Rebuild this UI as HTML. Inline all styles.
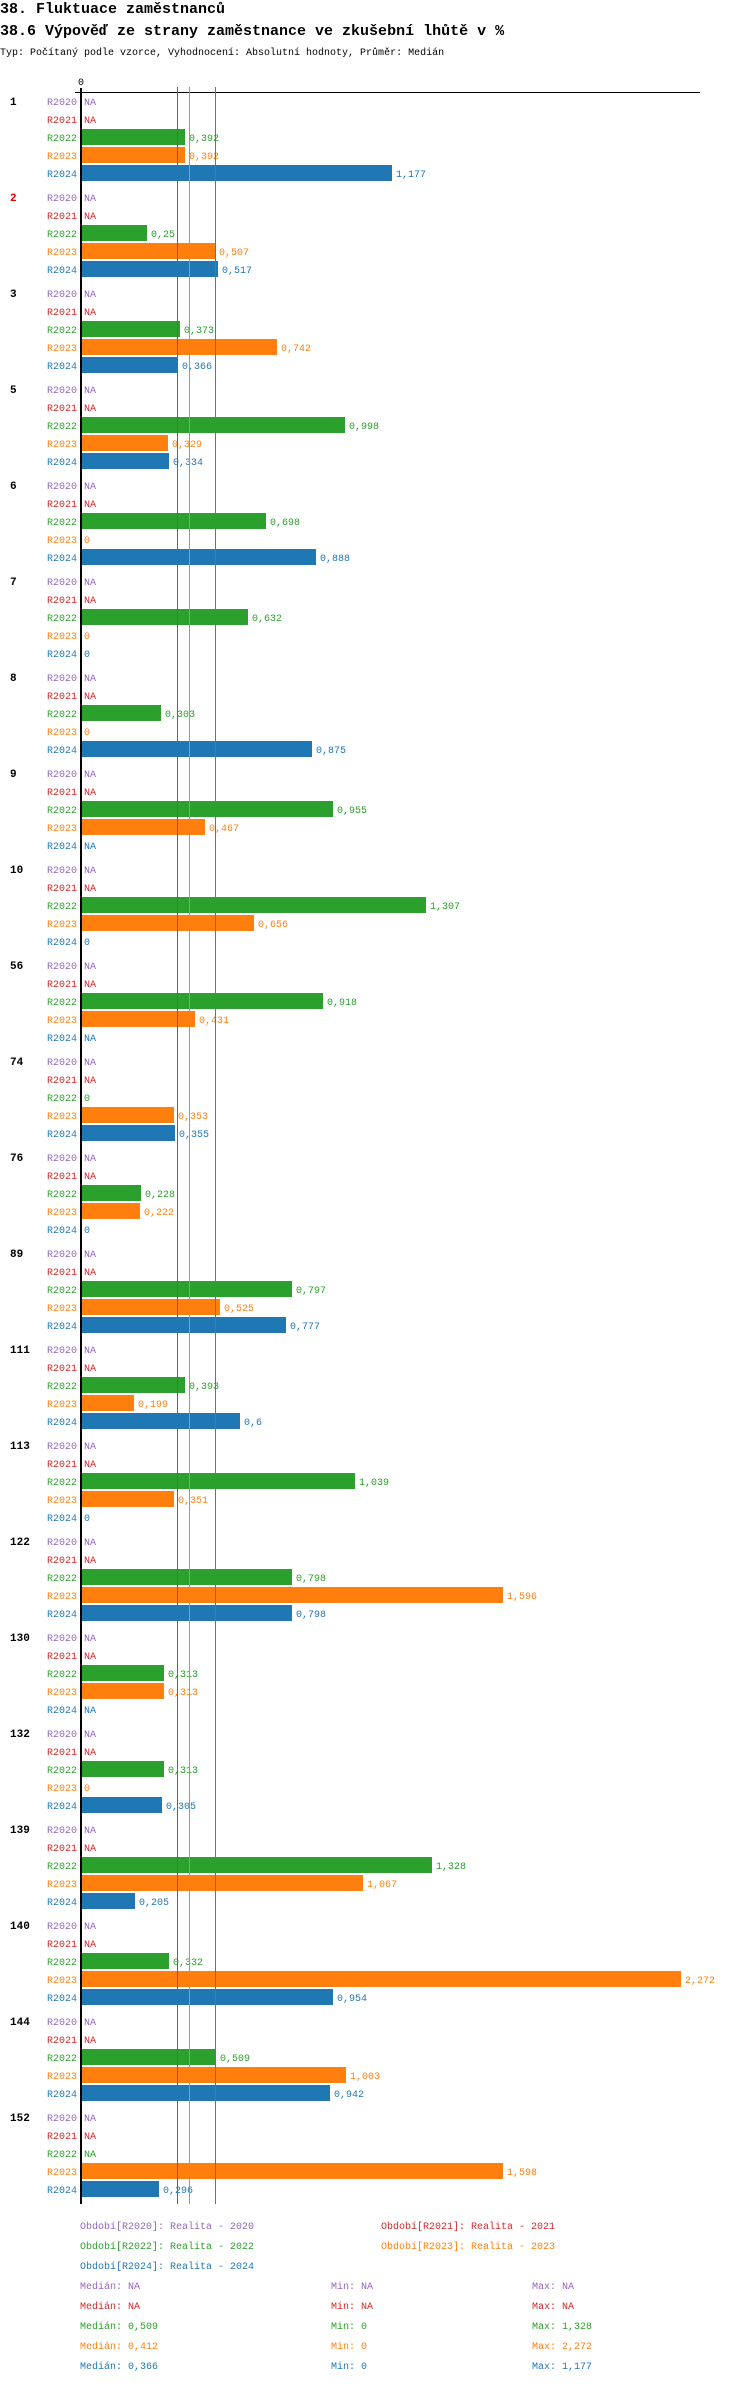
<!DOCTYPE html>
<html><head><meta charset="utf-8"><style>
html,body{margin:0;padding:0;background:#fff}
svg{display:block}
text{font-family:"Liberation Mono","DejaVu Sans Mono",monospace;font-size:10px}
.g{font-weight:bold;font-size:11px}
.l{text-anchor:end}
.p{fill:#9467bd}.r{fill:#d62728}.gr{fill:#2ca02c}.o{fill:#ff7f0e}.b{fill:#1f77b4}
</style></head><body>
<svg width="750" height="2384" viewBox="0 0 750 2384" xmlns="http://www.w3.org/2000/svg">
<text x="0" y="13" style="font-size:15px;font-weight:bold">38. Fluktuace zaměstnanců</text>
<text x="0" y="35" style="font-size:15px;font-weight:bold">38.6 Výpověď ze strany zaměstnance ve zkušební lhůtě v %</text>
<text x="0" y="55">Typ: Počítaný podle vzorce, Vyhodnocení: Absolutní hodnoty, Průměr: Medián</text>
<text x="78" y="85">0</text>
<line x1="75" y1="92.5" x2="700" y2="92.5" stroke="#000" stroke-width="1"/>

<g transform="translate(0,101)"><text class="g" x="10" y="4">1</text>
<text class="l p" x="77" y="4">R2020</text><text class="p" x="84" y="4">NA</text>
<text class="l r" x="77" y="22">R2021</text><text class="r" x="84" y="22">NA</text>
<text class="l gr" x="77" y="40">R2022</text><rect class="gr" x="82" y="28" width="103" height="16"/><text class="gr" x="189" y="40">0,392</text>
<text class="l o" x="77" y="58">R2023</text><rect class="o" x="82" y="46" width="103" height="16"/><text class="o" x="189" y="58">0,392</text>
<text class="l b" x="77" y="76">R2024</text><rect class="b" x="82" y="64" width="310" height="16"/><text class="b" x="396" y="76">1,177</text></g>

<g transform="translate(0,197)"><text class="g" x="10" y="4" fill="#e00">2</text>
<text class="l p" x="77" y="4">R2020</text><text class="p" x="84" y="4">NA</text>
<text class="l r" x="77" y="22">R2021</text><text class="r" x="84" y="22">NA</text>
<text class="l gr" x="77" y="40">R2022</text><rect class="gr" x="82" y="28" width="65" height="16"/><text class="gr" x="151" y="40">0,25</text>
<text class="l o" x="77" y="58">R2023</text><rect class="o" x="82" y="46" width="133" height="16"/><text class="o" x="219" y="58">0,507</text>
<text class="l b" x="77" y="76">R2024</text><rect class="b" x="82" y="64" width="136" height="16"/><text class="b" x="222" y="76">0,517</text></g>

<g transform="translate(0,293)"><text class="g" x="10" y="4">3</text>
<text class="l p" x="77" y="4">R2020</text><text class="p" x="84" y="4">NA</text>
<text class="l r" x="77" y="22">R2021</text><text class="r" x="84" y="22">NA</text>
<text class="l gr" x="77" y="40">R2022</text><rect class="gr" x="82" y="28" width="98" height="16"/><text class="gr" x="184" y="40">0,373</text>
<text class="l o" x="77" y="58">R2023</text><rect class="o" x="82" y="46" width="195" height="16"/><text class="o" x="281" y="58">0,742</text>
<text class="l b" x="77" y="76">R2024</text><rect class="b" x="82" y="64" width="96" height="16"/><text class="b" x="182" y="76">0,366</text></g>

<g transform="translate(0,389)"><text class="g" x="10" y="4">5</text>
<text class="l p" x="77" y="4">R2020</text><text class="p" x="84" y="4">NA</text>
<text class="l r" x="77" y="22">R2021</text><text class="r" x="84" y="22">NA</text>
<text class="l gr" x="77" y="40">R2022</text><rect class="gr" x="82" y="28" width="263" height="16"/><text class="gr" x="349" y="40">0,998</text>
<text class="l o" x="77" y="58">R2023</text><rect class="o" x="82" y="46" width="86" height="16"/><text class="o" x="172" y="58">0,329</text>
<text class="l b" x="77" y="76">R2024</text><rect class="b" x="82" y="64" width="87" height="16"/><text class="b" x="173" y="76">0,334</text></g>

<g transform="translate(0,485)"><text class="g" x="10" y="4">6</text>
<text class="l p" x="77" y="4">R2020</text><text class="p" x="84" y="4">NA</text>
<text class="l r" x="77" y="22">R2021</text><text class="r" x="84" y="22">NA</text>
<text class="l gr" x="77" y="40">R2022</text><rect class="gr" x="82" y="28" width="184" height="16"/><text class="gr" x="270" y="40">0,698</text>
<text class="l o" x="77" y="58">R2023</text><text class="o" x="84" y="58">0</text>
<text class="l b" x="77" y="76">R2024</text><rect class="b" x="82" y="64" width="234" height="16"/><text class="b" x="320" y="76">0,888</text></g>

<g transform="translate(0,581)"><text class="g" x="10" y="4">7</text>
<text class="l p" x="77" y="4">R2020</text><text class="p" x="84" y="4">NA</text>
<text class="l r" x="77" y="22">R2021</text><text class="r" x="84" y="22">NA</text>
<text class="l gr" x="77" y="40">R2022</text><rect class="gr" x="82" y="28" width="166" height="16"/><text class="gr" x="252" y="40">0,632</text>
<text class="l o" x="77" y="58">R2023</text><text class="o" x="84" y="58">0</text>
<text class="l b" x="77" y="76">R2024</text><text class="b" x="84" y="76">0</text></g>

<g transform="translate(0,677)"><text class="g" x="10" y="4">8</text>
<text class="l p" x="77" y="4">R2020</text><text class="p" x="84" y="4">NA</text>
<text class="l r" x="77" y="22">R2021</text><text class="r" x="84" y="22">NA</text>
<text class="l gr" x="77" y="40">R2022</text><rect class="gr" x="82" y="28" width="79" height="16"/><text class="gr" x="165" y="40">0,303</text>
<text class="l o" x="77" y="58">R2023</text><text class="o" x="84" y="58">0</text>
<text class="l b" x="77" y="76">R2024</text><rect class="b" x="82" y="64" width="230" height="16"/><text class="b" x="316" y="76">0,875</text></g>

<g transform="translate(0,773)"><text class="g" x="10" y="4">9</text>
<text class="l p" x="77" y="4">R2020</text><text class="p" x="84" y="4">NA</text>
<text class="l r" x="77" y="22">R2021</text><text class="r" x="84" y="22">NA</text>
<text class="l gr" x="77" y="40">R2022</text><rect class="gr" x="82" y="28" width="251" height="16"/><text class="gr" x="337" y="40">0,955</text>
<text class="l o" x="77" y="58">R2023</text><rect class="o" x="82" y="46" width="123" height="16"/><text class="o" x="209" y="58">0,467</text>
<text class="l b" x="77" y="76">R2024</text><text class="b" x="84" y="76">NA</text></g>

<g transform="translate(0,869)"><text class="g" x="10" y="4">10</text>
<text class="l p" x="77" y="4">R2020</text><text class="p" x="84" y="4">NA</text>
<text class="l r" x="77" y="22">R2021</text><text class="r" x="84" y="22">NA</text>
<text class="l gr" x="77" y="40">R2022</text><rect class="gr" x="82" y="28" width="344" height="16"/><text class="gr" x="430" y="40">1,307</text>
<text class="l o" x="77" y="58">R2023</text><rect class="o" x="82" y="46" width="172" height="16"/><text class="o" x="258" y="58">0,656</text>
<text class="l b" x="77" y="76">R2024</text><text class="b" x="84" y="76">0</text></g>

<g transform="translate(0,965)"><text class="g" x="10" y="4">56</text>
<text class="l p" x="77" y="4">R2020</text><text class="p" x="84" y="4">NA</text>
<text class="l r" x="77" y="22">R2021</text><text class="r" x="84" y="22">NA</text>
<text class="l gr" x="77" y="40">R2022</text><rect class="gr" x="82" y="28" width="241" height="16"/><text class="gr" x="327" y="40">0,918</text>
<text class="l o" x="77" y="58">R2023</text><rect class="o" x="82" y="46" width="113" height="16"/><text class="o" x="199" y="58">0,431</text>
<text class="l b" x="77" y="76">R2024</text><text class="b" x="84" y="76">NA</text></g>

<g transform="translate(0,1061)"><text class="g" x="10" y="4">74</text>
<text class="l p" x="77" y="4">R2020</text><text class="p" x="84" y="4">NA</text>
<text class="l r" x="77" y="22">R2021</text><text class="r" x="84" y="22">NA</text>
<text class="l gr" x="77" y="40">R2022</text><text class="gr" x="84" y="40">0</text>
<text class="l o" x="77" y="58">R2023</text><rect class="o" x="82" y="46" width="92" height="16"/><text class="o" x="178" y="58">0,353</text>
<text class="l b" x="77" y="76">R2024</text><rect class="b" x="82" y="64" width="93" height="16"/><text class="b" x="179" y="76">0,355</text></g>

<g transform="translate(0,1157)"><text class="g" x="10" y="4">76</text>
<text class="l p" x="77" y="4">R2020</text><text class="p" x="84" y="4">NA</text>
<text class="l r" x="77" y="22">R2021</text><text class="r" x="84" y="22">NA</text>
<text class="l gr" x="77" y="40">R2022</text><rect class="gr" x="82" y="28" width="59" height="16"/><text class="gr" x="145" y="40">0,228</text>
<text class="l o" x="77" y="58">R2023</text><rect class="o" x="82" y="46" width="58" height="16"/><text class="o" x="144" y="58">0,222</text>
<text class="l b" x="77" y="76">R2024</text><text class="b" x="84" y="76">0</text></g>

<g transform="translate(0,1253)"><text class="g" x="10" y="4">89</text>
<text class="l p" x="77" y="4">R2020</text><text class="p" x="84" y="4">NA</text>
<text class="l r" x="77" y="22">R2021</text><text class="r" x="84" y="22">NA</text>
<text class="l gr" x="77" y="40">R2022</text><rect class="gr" x="82" y="28" width="210" height="16"/><text class="gr" x="296" y="40">0,797</text>
<text class="l o" x="77" y="58">R2023</text><rect class="o" x="82" y="46" width="138" height="16"/><text class="o" x="224" y="58">0,525</text>
<text class="l b" x="77" y="76">R2024</text><rect class="b" x="82" y="64" width="204" height="16"/><text class="b" x="290" y="76">0,777</text></g>

<g transform="translate(0,1349)"><text class="g" x="10" y="4">111</text>
<text class="l p" x="77" y="4">R2020</text><text class="p" x="84" y="4">NA</text>
<text class="l r" x="77" y="22">R2021</text><text class="r" x="84" y="22">NA</text>
<text class="l gr" x="77" y="40">R2022</text><rect class="gr" x="82" y="28" width="103" height="16"/><text class="gr" x="189" y="40">0,393</text>
<text class="l o" x="77" y="58">R2023</text><rect class="o" x="82" y="46" width="52" height="16"/><text class="o" x="138" y="58">0,199</text>
<text class="l b" x="77" y="76">R2024</text><rect class="b" x="82" y="64" width="158" height="16"/><text class="b" x="244" y="76">0,6</text></g>

<g transform="translate(0,1445)"><text class="g" x="10" y="4">113</text>
<text class="l p" x="77" y="4">R2020</text><text class="p" x="84" y="4">NA</text>
<text class="l r" x="77" y="22">R2021</text><text class="r" x="84" y="22">NA</text>
<text class="l gr" x="77" y="40">R2022</text><rect class="gr" x="82" y="28" width="273" height="16"/><text class="gr" x="359" y="40">1,039</text>
<text class="l o" x="77" y="58">R2023</text><rect class="o" x="82" y="46" width="92" height="16"/><text class="o" x="178" y="58">0,351</text>
<text class="l b" x="77" y="76">R2024</text><text class="b" x="84" y="76">0</text></g>

<g transform="translate(0,1541)"><text class="g" x="10" y="4">122</text>
<text class="l p" x="77" y="4">R2020</text><text class="p" x="84" y="4">NA</text>
<text class="l r" x="77" y="22">R2021</text><text class="r" x="84" y="22">NA</text>
<text class="l gr" x="77" y="40">R2022</text><rect class="gr" x="82" y="28" width="210" height="16"/><text class="gr" x="296" y="40">0,798</text>
<text class="l o" x="77" y="58">R2023</text><rect class="o" x="82" y="46" width="421" height="16"/><text class="o" x="507" y="58">1,596</text>
<text class="l b" x="77" y="76">R2024</text><rect class="b" x="82" y="64" width="210" height="16"/><text class="b" x="296" y="76">0,798</text></g>

<g transform="translate(0,1637)"><text class="g" x="10" y="4">130</text>
<text class="l p" x="77" y="4">R2020</text><text class="p" x="84" y="4">NA</text>
<text class="l r" x="77" y="22">R2021</text><text class="r" x="84" y="22">NA</text>
<text class="l gr" x="77" y="40">R2022</text><rect class="gr" x="82" y="28" width="82" height="16"/><text class="gr" x="168" y="40">0,313</text>
<text class="l o" x="77" y="58">R2023</text><rect class="o" x="82" y="46" width="82" height="16"/><text class="o" x="168" y="58">0,313</text>
<text class="l b" x="77" y="76">R2024</text><text class="b" x="84" y="76">NA</text></g>

<g transform="translate(0,1733)"><text class="g" x="10" y="4">132</text>
<text class="l p" x="77" y="4">R2020</text><text class="p" x="84" y="4">NA</text>
<text class="l r" x="77" y="22">R2021</text><text class="r" x="84" y="22">NA</text>
<text class="l gr" x="77" y="40">R2022</text><rect class="gr" x="82" y="28" width="82" height="16"/><text class="gr" x="168" y="40">0,313</text>
<text class="l o" x="77" y="58">R2023</text><text class="o" x="84" y="58">0</text>
<text class="l b" x="77" y="76">R2024</text><rect class="b" x="82" y="64" width="80" height="16"/><text class="b" x="166" y="76">0,305</text></g>

<g transform="translate(0,1829)"><text class="g" x="10" y="4">139</text>
<text class="l p" x="77" y="4">R2020</text><text class="p" x="84" y="4">NA</text>
<text class="l r" x="77" y="22">R2021</text><text class="r" x="84" y="22">NA</text>
<text class="l gr" x="77" y="40">R2022</text><rect class="gr" x="82" y="28" width="350" height="16"/><text class="gr" x="436" y="40">1,328</text>
<text class="l o" x="77" y="58">R2023</text><rect class="o" x="82" y="46" width="281" height="16"/><text class="o" x="367" y="58">1,067</text>
<text class="l b" x="77" y="76">R2024</text><rect class="b" x="82" y="64" width="53" height="16"/><text class="b" x="139" y="76">0,205</text></g>

<g transform="translate(0,1925)"><text class="g" x="10" y="4">140</text>
<text class="l p" x="77" y="4">R2020</text><text class="p" x="84" y="4">NA</text>
<text class="l r" x="77" y="22">R2021</text><text class="r" x="84" y="22">NA</text>
<text class="l gr" x="77" y="40">R2022</text><rect class="gr" x="82" y="28" width="87" height="16"/><text class="gr" x="173" y="40">0,332</text>
<text class="l o" x="77" y="58">R2023</text><rect class="o" x="82" y="46" width="599" height="16"/><text class="o" x="685" y="58">2,272</text>
<text class="l b" x="77" y="76">R2024</text><rect class="b" x="82" y="64" width="251" height="16"/><text class="b" x="337" y="76">0,954</text></g>

<g transform="translate(0,2021)"><text class="g" x="10" y="4">144</text>
<text class="l p" x="77" y="4">R2020</text><text class="p" x="84" y="4">NA</text>
<text class="l r" x="77" y="22">R2021</text><text class="r" x="84" y="22">NA</text>
<text class="l gr" x="77" y="40">R2022</text><rect class="gr" x="82" y="28" width="134" height="16"/><text class="gr" x="220" y="40">0,509</text>
<text class="l o" x="77" y="58">R2023</text><rect class="o" x="82" y="46" width="264" height="16"/><text class="o" x="350" y="58">1,003</text>
<text class="l b" x="77" y="76">R2024</text><rect class="b" x="82" y="64" width="248" height="16"/><text class="b" x="334" y="76">0,942</text></g>

<g transform="translate(0,2117)"><text class="g" x="10" y="4">152</text>
<text class="l p" x="77" y="4">R2020</text><text class="p" x="84" y="4">NA</text>
<text class="l r" x="77" y="22">R2021</text><text class="r" x="84" y="22">NA</text>
<text class="l gr" x="77" y="40">R2022</text><text class="gr" x="84" y="40">NA</text>
<text class="l o" x="77" y="58">R2023</text><rect class="o" x="82" y="46" width="421" height="16"/><text class="o" x="507" y="58">1,598</text>
<text class="l b" x="77" y="76">R2024</text><rect class="b" x="82" y="64" width="77" height="16"/><text class="b" x="163" y="76">0,296</text></g>

<line x1="81" y1="88" x2="81" y2="2204" stroke="#000" stroke-width="2"/>
<line x1="177.5" y1="87" x2="177.5" y2="2204" stroke="#1f77b4" stroke-width="1"/>
<line x1="189.5" y1="87" x2="189.5" y2="2204" stroke="#ff7f0e" stroke-width="1"/>
<line x1="215.5" y1="87" x2="215.5" y2="2204" stroke="#2ca02c" stroke-width="1"/>

<text class="p" x="80" y="2229">Období[R2020]: Realita - 2020</text>
<text class="r" x="381" y="2229">Období[R2021]: Realita - 2021</text>
<text class="gr" x="80" y="2249">Období[R2022]: Realita - 2022</text>
<text class="o" x="381" y="2249">Období[R2023]: Realita - 2023</text>
<text class="b" x="80" y="2269">Období[R2024]: Realita - 2024</text>
<text class="p" x="80" y="2289">Medián: NA</text><text class="p" x="331" y="2289">Min: NA</text><text class="p" x="532" y="2289">Max: NA</text>
<text class="r" x="80" y="2309">Medián: NA</text><text class="r" x="331" y="2309">Min: NA</text><text class="r" x="532" y="2309">Max: NA</text>
<text class="gr" x="80" y="2329">Medián: 0,509</text><text class="gr" x="331" y="2329">Min: 0</text><text class="gr" x="532" y="2329">Max: 1,328</text>
<text class="o" x="80" y="2349">Medián: 0,412</text><text class="o" x="331" y="2349">Min: 0</text><text class="o" x="532" y="2349">Max: 2,272</text>
<text class="b" x="80" y="2369">Medián: 0,366</text><text class="b" x="331" y="2369">Min: 0</text><text class="b" x="532" y="2369">Max: 1,177</text>
</svg>
</body></html>
